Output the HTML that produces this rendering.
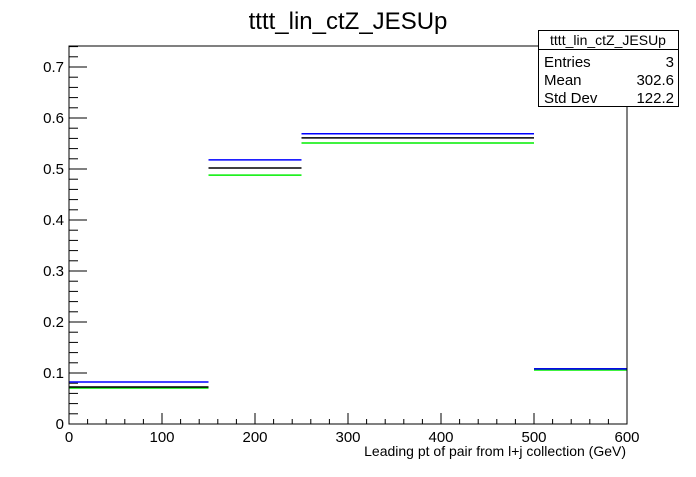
<!DOCTYPE html>
<html><head><meta charset="utf-8"><style>
body{margin:0;background:#fff}
svg text{font-family:"Liberation Sans",Arial,sans-serif}
</style></head><body>
<svg id="c" width="696" height="472" xmlns="http://www.w3.org/2000/svg">
<rect width="696" height="472" fill="#fff"/>
<text x="348" y="29" font-size="24" text-anchor="middle">tttt_lin_ctZ_JESUp</text>
<g id="axes"></g>
<g id="marks"></g>
<rect x="69" y="46" width="558" height="378" fill="none" stroke="#000" stroke-width="1"/>
<g>
<rect x="538.5" y="30.5" width="140" height="76" fill="#fff" stroke="#000"/>
<line x1="538" y1="49.5" x2="678" y2="49.5" stroke="#000"/>
<text x="608" y="45" font-size="14" text-anchor="middle">tttt_lin_ctZ_JESUp</text>
<text x="544" y="67" font-size="15">Entries</text><text x="674" y="67" font-size="15" text-anchor="end">3</text>
<text x="544" y="85" font-size="15">Mean</text><text x="674" y="85" font-size="15" text-anchor="end">302.6</text>
<text x="544" y="103" font-size="15">Std Dev</text><text x="674" y="103" font-size="15" text-anchor="end">122.2</text>
</g>
<text x="626" y="456" font-size="14" text-anchor="end">Leading pt of pair from l+j collection (GeV)</text>
</svg>
<script>
const binEdges=[0,150,250,500,600];
const blueVals=[0.0824,0.518,0.569,0.108];
const blackVals=[0.0725,0.502,0.561,0.108];
const greenVals=[0.0706,0.488,0.551,0.106];
const xTicks=[0,100,200,300,400,500,600];
const yTicks=[0,0.1,0.2,0.3,0.4,0.5,0.6,0.7];
const X0=69,X1=627,Y0=424,Ytop=46,XMAX=600,YMAX=(424-46)/510;
const xs=v=>X0+(v/XMAX)*(X1-X0);
const ys=v=>Y0-(v/YMAX)*(Y0-Ytop);
const NS="http://www.w3.org/2000/svg";
const ax=document.getElementById('axes'),mk=document.getElementById('marks');
function ln(p,x1,y1,x2,y2,c,w){const l=document.createElementNS(NS,'line');l.setAttribute('x1',x1);l.setAttribute('y1',y1);l.setAttribute('x2',x2);l.setAttribute('y2',y2);l.setAttribute('stroke',c);l.setAttribute('stroke-width',w||1);p.appendChild(l);return l;}
function tx(p,x,y,s,a){const t=document.createElementNS(NS,'text');t.setAttribute('x',x);t.setAttribute('y',y);t.setAttribute('font-size',15);t.setAttribute('text-anchor',a);t.textContent=s;p.appendChild(t);return t;}
for(let v=0;v<=600.01;v+=20){const big=Math.abs(v%100)<0.01;const l=ln(ax,xs(v),Y0,xs(v),Y0-(big?11:5),'#000');

}
xTicks.forEach(v=>{const t=tx(ax,xs(v),Y0+18,String(v),'middle');

});
for(let i=0;i<=37;i++){const v=i*0.02;if(v>YMAX)break;const big=i%5==0;const l=ln(ax,X0,ys(v),X0+(big?18:9),ys(v),'#000');

}
yTicks.forEach(v=>{const t=tx(ax,X0-5,ys(v)+5,v===0?'0':v.toFixed(1),'end');

});
[[greenVals,'#00ee00','green'],[blackVals,'#000','black'],[blueVals,'#0000ff','blue']].forEach(([vals,c,n])=>{
vals.forEach((v,i)=>{const l=ln(mk,xs(binEdges[i]),ys(v),xs(binEdges[i+1]),ys(v),c,1.5);

});});
</script>
</body></html>
